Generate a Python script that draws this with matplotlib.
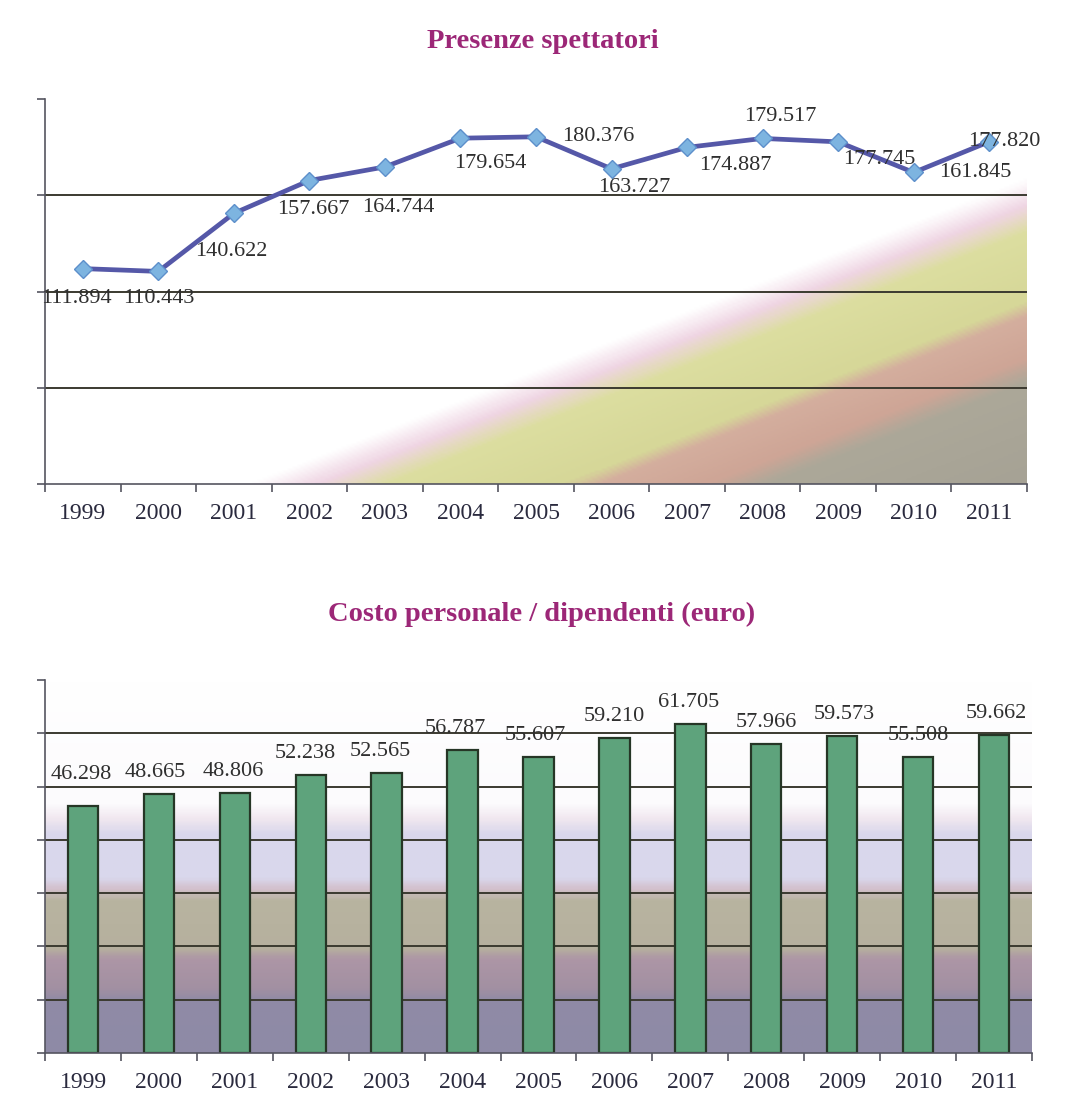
import numpy as np
import matplotlib
matplotlib.use("Agg")
import matplotlib.pyplot as plt
from matplotlib.colors import LinearSegmentedColormap

# data
anni = ["1999", "2000", "2001", "2002", "2003", "2004", "2005",
        "2006", "2007", "2008", "2009", "2010", "2011"]
spettatori = [111894, 110443, 140622, 157667, 164744, 179654, 180376,
              163727, 174887, 179517, 177745, 161845, 177820]
costo_personale = [46298, 48665, 48806, 52238, 52565, 56787, 55607,
                   59210, 61705, 57966, 59573, 55508, 59662]

# label offsets (pixels)
offs_line = [(-6, -30), (0, -27), (-3, -38), (4, -29), (13, -41), (30, -25),
             (62, 0), (23, -19), (48, -18), (18, 22), (41, -18), (62, 0), (15, 0)]
offs_bar = [(-2, 22), (-4, 12), (-2, 12), (-6, 12), (-6, 12), (-7, 12), (-3, 12),
            (0, 12), (-2, 12), (0, 12), (2, 12), (0, 12), (2, 12)]


def fmt(v):
    return "{:,}".format(v).replace(",", ".")


plt.rcParams["font.family"] = ["Liberation Serif", "DejaVu Serif"]
title_col = "#9c2777"
lab_col = "#2f2f2f"
tick_col = "#2a2a3e"
grid_col = "#3b3a30"

fig = plt.figure(figsize=(10.67, 11.15), dpi=100)

# ---------------- top: line chart ----------------
ax1 = fig.add_axes([0.0422, 0.5659, 0.9203, 0.3453])
ax1.set_autoscale_on(False)

u, v = np.meshgrid(np.linspace(0, 1, 400), np.linspace(1, 0, 200))
d = u - v
cm_top = LinearSegmentedColormap.from_list("bg_top", [
    (0.0, "#ffffff"), (0.605, "#ffffff"), (0.64, "#efd5e3"),
    (0.675, "#dcdea0"), (0.765, "#d6d798"), (0.785, "#d4ae9e"),
    (0.84, "#cea596"), (0.87, "#aca899"), (1.0, "#a6a295")])
ax1.imshow((d + 1) / 2, cmap=cm_top, vmin=0, vmax=1, extent=(0, 1, 0, 1),
           transform=ax1.transAxes, aspect="auto", zorder=0, interpolation="bilinear")

x = np.arange(len(anni))
ax1.set_xlim(-0.5, len(anni) - 0.5)
ax1.set_ylim(0, 200000)
for g in [50000, 100000, 150000]:
    ax1.axhline(g, color=grid_col, lw=1.4, zorder=1)

ax1.plot(x, spettatori, color="#5558a8", lw=3.4, marker="D", ms=9,
         markerfacecolor="#7db4e0", markeredgecolor="#5d8fcb", mew=1, zorder=3)
for i, val in enumerate(spettatori):
    dx, dy = offs_line[i]
    ax1.annotate(fmt(val), (x[i], val), xytext=(dx, dy), textcoords="offset pixels",
                 ha="center", va="center", fontsize=16, color=lab_col, zorder=4)

ax1.set_yticks([0, 50000, 100000, 150000, 200000])
ax1.set_yticklabels([])
ax1.set_xticks(np.arange(-0.5, len(anni), 1.0))
ax1.set_xticklabels([])
ax1.set_xticks(x, minor=True)
ax1.set_xticklabels(anni, minor=True)
ax1.tick_params(axis="x", which="minor", length=0, pad=14, labelsize=17, labelcolor=tick_col)
ax1.tick_params(axis="both", which="major", length=6, width=1.2, color="#555560")
for s in ["top", "right"]:
    ax1.spines[s].set_visible(False)
for s in ["left", "bottom"]:
    ax1.spines[s].set_color("#555560")
    ax1.spines[s].set_linewidth(1.2)

fig.text(0.509, 0.963, "Presenze spettatori", ha="center", va="center",
         fontsize=20.5, fontweight="bold", color=title_col)

# ---------------- bottom: bar chart ----------------
ax2 = fig.add_axes([0.0422, 0.0556, 0.925, 0.3345])
ax2.set_autoscale_on(False)

yy = np.linspace(1, 0, 300)[:, None] * np.ones((1, 10))
cm_bot = LinearSegmentedColormap.from_list("bg_bot", [
    (0.0, "#8e8aa6"), (0.14, "#908ba6"), (0.17, "#a290a2"), (0.25, "#ad96a6"),
    (0.28, "#b6b09e"), (0.41, "#b8b4a0"), (0.44, "#d3c0cc"), (0.47, "#d9d7ec"),
    (0.59, "#dad8ec"), (0.63, "#f1e8f0"), (0.67, "#fcfbfd"), (1.0, "#ffffff")])
ax2.imshow(yy, cmap=cm_bot, vmin=0, vmax=1, extent=(0, 1, 0, 1),
           transform=ax2.transAxes, aspect="auto", zorder=0, interpolation="bilinear")

ax2.set_xlim(-0.5, len(anni) - 0.5)
ax2.set_ylim(0, 70000)
for g in range(10000, 70000, 10000):
    ax2.axhline(g, color=grid_col, lw=1.4, zorder=1)

ax2.bar(x, costo_personale, width=0.4, color="#5ea37c",
        edgecolor="#263626", linewidth=1.6, zorder=2)
for i, val in enumerate(costo_personale):
    dx, dy = offs_bar[i]
    ax2.annotate(fmt(val), (x[i], val), xytext=(dx, dy), textcoords="offset pixels",
                 ha="center", va="bottom", fontsize=16, color=lab_col, zorder=4)

ax2.set_yticks(range(0, 80000, 10000))
ax2.set_yticklabels([])
ax2.set_xticks(np.arange(-0.5, len(anni), 1.0))
ax2.set_xticklabels([])
ax2.set_xticks(x, minor=True)
ax2.set_xticklabels(anni, minor=True)
ax2.tick_params(axis="x", which="minor", length=0, pad=14, labelsize=17, labelcolor=tick_col)
ax2.tick_params(axis="both", which="major", length=6, width=1.2, color="#555560")
for s in ["top", "right"]:
    ax2.spines[s].set_visible(False)
for s in ["left", "bottom"]:
    ax2.spines[s].set_color("#555560")
    ax2.spines[s].set_linewidth(1.2)

fig.text(0.508, 0.449, "Costo personale / dipendenti (euro)", ha="center", va="center",
         fontsize=20.5, fontweight="bold", color=title_col)

fig.savefig("out.png", dpi=100, facecolor="white")
